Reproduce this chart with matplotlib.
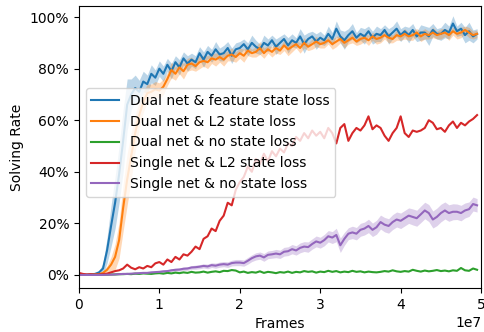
import numpy as np
import matplotlib.pyplot as plt
from matplotlib.ticker import PercentFormatter

OUTPUT_PATH = "out.png"

# evaluation checkpoints, every 5e5 frames
STEP_FRAMES = 5e5
N_POINTS = 100

labels = [
    "Dual net & feature state loss",
    "Dual net & L2 state loss",
    "Dual net & no state loss",
    "Single net & L2 state loss",
    "Single net & no state loss",
]

# mean solving rate (%) per checkpoint
dual_feature = [
    0.0, 0.0, 0.1, 0.2, 0.4, 1.0, 2.5, 9.5, 19, 28,
    39, 52, 66, 70, 72.5, 71, 75, 74, 78, 76.5,
    80, 78, 81.5, 79, 82.5, 80.5, 84, 82, 83.5, 82.5,
    86, 83.5, 86.5, 85, 87.5, 85.5, 86, 88, 85, 87.5,
    88, 89.5, 87.5, 90, 88.5, 87.5, 90, 89, 91, 88.5,
    90, 91.5, 89, 91, 90, 92.5, 89.5, 91.5, 92.5, 90.5,
    92, 91, 93.5, 91.5, 95.5, 92.5, 91, 93, 94.5, 92,
    93.5, 92.5, 94.5, 92, 93.5, 93, 95, 92.5, 94, 95.5,
    93, 94.5, 93, 95, 92.5, 94, 94, 92.5, 95, 93.5,
    93.5, 95, 94, 97.5, 94.5, 95.5, 93, 94.5, 92.5, 93.5,
]
dual_l2 = [
    0.0, 0.0, 0.0, 0.1, 0.2, 0.3, 0.8, 2.0, 4.0, 7.0,
    13.5, 26, 37, 46, 55, 62, 67, 70.5, 71, 72,
    71.5, 73, 76, 79.5, 78, 80.5, 79, 81.5, 82, 81,
    82.5, 83, 82.5, 84, 83.5, 84.5, 83.5, 85, 85.5, 84.5,
    86, 85, 87, 86, 86.5, 88, 86, 87.5, 86.5, 88,
    87, 89, 87.5, 88.5, 89.5, 88, 90, 88.5, 89.5, 90.5,
    89.5, 90, 91, 89.5, 90.5, 91.5, 90, 91, 92, 90.5,
    91.5, 92, 91, 92.5, 91.5, 92, 93, 92, 91.5, 93,
    92.5, 93.5, 92.5, 93, 94, 92.5, 93.5, 93, 94, 93,
    93.5, 94, 93, 94.5, 93.5, 94, 95, 94, 93, 93.5,
]
dual_none = [
    0.0, 0.0, 0.0, 0.0, 0.0, 0.0, 0.1, 0.1, 0.2, 0.2,
    0.3, 0.3, 0.4, 0.3, 0.5, 0.4, 0.6, 0.5, 0.4, 0.6,
    0.7, 0.5, 0.8, 0.6, 0.9, 0.7, 1.0, 0.8, 1.2, 0.9,
    1.0, 1.3, 0.9, 1.2, 1.4, 1.1, 1.6, 1.5, 1.9, 1.7,
    1.0, 1.3, 0.8, 1.1, 0.9, 1.4, 0.8, 1.2, 1.0, 0.7,
    1.1, 0.9, 1.3, 0.8, 1.2, 1.0, 1.5, 1.2, 1.4, 0.9,
    1.3, 1.1, 1.6, 1.2, 1.5, 1.0, 1.3, 1.1, 1.6, 1.2,
    1.4, 1.0, 1.3, 1.1, 1.0, 1.2, 1.5, 1.3, 1.8, 1.4,
    1.2, 1.5, 1.3, 2.0, 1.6, 1.3, 1.7, 1.4, 1.6, 1.9,
    1.5, 1.7, 1.4, 1.8, 1.6, 2.7, 1.8, 1.6, 2.5, 2.0,
]
single_l2 = [
    0.8, 0.4, 0.2, 0.3, 0.1, 0.2, 0.3, 0.5, 1.0, 1.5,
    1.8, 2.5, 4.0, 2.8, 2.2, 3.0, 2.5, 3.5, 3.0, 4.5,
    5.0, 4.0, 6.0, 5.0, 7.0, 6.0, 8.0, 7.5, 9.0, 11.0,
    10.0, 14.0, 15.0, 18.0, 17.0, 21.0, 23.0, 28.0, 27.0, 33.0,
    36.0, 38.0, 42.0, 40.0, 45.0, 43.0, 47.0, 44.0, 48.0, 46.0,
    49.0, 47.5, 51.0, 50.0, 53.5, 52.0, 55.0, 53.0, 56.0, 54.0,
    55.5, 53.0, 57.0, 55.0, 51.0, 57.0, 58.5, 52.0, 55.0, 57.0,
    56.0, 58.0, 61.5, 56.5, 58.0, 57.0, 54.0, 52.0, 55.0, 57.0,
    61.5, 55.0, 53.5, 56.0, 55.5, 56.0, 57.0, 60.0, 59.0, 56.5,
    57.0, 55.5, 58.0, 59.5, 57.0, 59.0, 58.0, 59.5, 60.5, 62.0,
]
single_none = [
    0.0, 0.0, 0.0, 0.0, 0.0, 0.0, 0.0, 0.1, 0.1, 0.2,
    0.3, 0.4, 0.4, 0.5, 0.6, 0.7, 0.8, 0.8, 1.0, 1.1,
    1.2, 1.4, 1.5, 1.8, 2.0, 2.1, 2.4, 2.5, 2.9, 3.0,
    3.2, 3.5, 3.3, 3.8, 3.6, 4.0, 4.2, 4.0, 4.6, 4.8,
    4.8, 4.6, 5.5, 6.5, 7.2, 7.5, 6.8, 7.8, 8.0, 8.3,
    8.0, 9.0, 9.2, 10.0, 9.5, 10.5, 11.0, 10.8, 12.0, 13.0,
    12.5, 13.5, 15.0, 14.5, 15.5, 11.5, 14.0, 16.0, 16.5, 16.0,
    17.5, 18.0, 19.0, 17.5, 18.5, 20.5, 19.5, 19.0, 20.5, 21.5,
    21.0, 22.0, 23.0, 22.5, 22.0, 23.5, 25.0, 24.0, 21.5, 22.5,
    24.0, 25.0, 24.0, 24.5, 24.5, 24.0, 25.0, 25.5, 27.5, 27.0,
]

# half-width of the shaded band (%) across seeds
dual_feature_sd = [
    0, 0, 0, 0.1, 0.3, 0.6, 2, 5, 8, 10,
    11, 12, 10, 6, 5, 4.5, 4, 3.5, 3.5, 3,
    3, 3, 2.5, 3, 2.5, 3, 2.5, 3, 2.5, 2.5,
    2.5, 3, 2.5, 2.5, 3, 2.5, 3, 2.5, 3, 2.5,
    2.5, 2, 2.5, 3, 2.5, 2, 3, 2.5, 2, 3,
    2.5, 2, 3, 2.5, 2, 3, 3.5, 2.5, 2, 3,
    2.5, 2, 3, 2.5, 3, 2.5, 3.5, 2.5, 3, 2,
    2.5, 3, 2, 2.5, 3, 2.5, 2, 3, 2.5, 3,
    2.5, 2, 3, 2.5, 2, 3, 2.5, 3.5, 2.5, 2,
    2.5, 3, 2.5, 3, 2, 2.5, 3, 3.5, 2.5, 2,
]
dual_l2_sd = [
    0, 0, 0, 0, 0.1, 0.3, 0.8, 1.5, 3, 5,
    7, 9, 10, 9, 7, 5, 4, 3.5, 3, 3,
    3, 3, 2.5, 3, 2.5, 2.5, 3, 2.5, 2.5, 2,
    2.5, 2, 2.5, 2, 2.5, 2, 2.5, 2, 2.5, 2,
    2, 2.5, 2, 1.5, 2, 2.5, 2, 1.5, 2, 2,
    1.5, 2, 2.5, 2, 1.5, 2, 2, 1.5, 2, 2,
    1.5, 2, 1.5, 2, 2, 1.5, 2, 1.5, 2, 1.5,
    2, 1.5, 2, 1.5, 2, 2, 1.5, 2, 1.5, 2,
    1.5, 2, 1.5, 2, 1.5, 2, 2, 1.5, 2, 1.5,
    2, 1.5, 2, 1.5, 2, 2, 1.5, 2, 1.5, 1.5,
]
single_none_sd = [
    0, 0, 0, 0, 0, 0, 0, 0.1, 0.1, 0.1,
    0.2, 0.2, 0.2, 0.3, 0.3, 0.3, 0.3, 0.4, 0.4, 0.4,
    0.5, 0.5, 0.5, 0.6, 0.6, 0.6, 0.7, 0.7, 0.7, 0.8,
    0.8, 0.8, 0.9, 0.9, 1.0, 1.0, 1.0, 1.1, 1.1, 1.2,
    1.2, 1.2, 1.3, 1.3, 1.4, 1.4, 1.5, 1.5, 1.5, 1.6,
    1.6, 1.7, 1.7, 1.8, 1.8, 1.9, 1.9, 2.0, 2.0, 2.1,
    2.1, 2.2, 2.2, 2.3, 2.6, 2.8, 2.5, 2.3, 2.4, 2.4,
    2.5, 2.5, 2.6, 2.6, 2.7, 2.7, 2.8, 2.8, 2.9, 2.9,
    3.0, 3.0, 3.0, 3.1, 3.1, 3.2, 3.2, 3.3, 3.3, 3.4,
    3.4, 3.3, 3.2, 3.1, 3.0, 3.0, 2.9, 2.8, 2.7, 2.6,
]


def main() -> None:
    plt.rcParams["font.size"] = 10
    frames = np.arange(N_POINTS) * STEP_FRAMES

    fig = plt.figure(figsize=(4.84, 3.32), dpi=100)
    ax = fig.add_subplot(111)
    fig.subplots_adjust(left=0.163, right=0.994, bottom=0.133, top=0.982)

    series = [
        (dual_feature, dual_feature_sd, "C0"),
        (dual_l2, dual_l2_sd, "C1"),
        (dual_none, None, "C2"),
        (single_l2, None, "C3"),
        (single_none, single_none_sd, "C4"),
    ]
    for (mean, sd, color), label in zip(series, labels):
        mean = np.asarray(mean, dtype=float)
        if sd is not None:
            sd = np.asarray(sd, dtype=float)
            ax.fill_between(
                frames,
                np.clip(mean - sd, 0, None),
                mean + sd,
                color=color,
                alpha=0.3,
                linewidth=0,
            )
        ax.plot(frames, mean, color=color, linewidth=1.5, label=label)

    ax.set_xlim(0, 5e7)
    ax.set_ylim(-5, 104.3)
    ax.set_yticks([0, 20, 40, 60, 80, 100])
    ax.yaxis.set_major_formatter(PercentFormatter(xmax=100, decimals=0))
    ax.set_xlabel("Frames")
    ax.set_ylabel("Solving Rate")
    ax.legend(loc="lower left", bbox_to_anchor=(0.0, 0.298))

    fig.savefig(OUTPUT_PATH, dpi=100)


if __name__ == "__main__":
    main()
